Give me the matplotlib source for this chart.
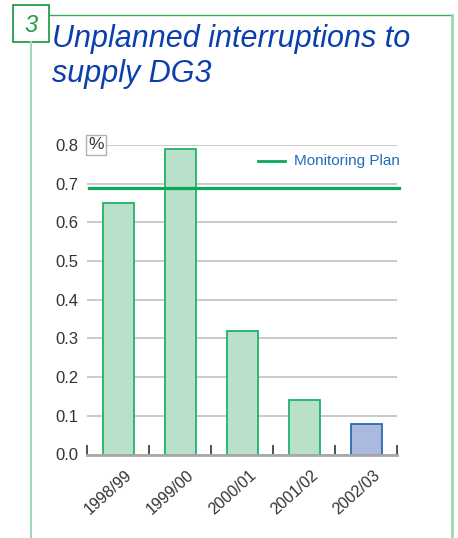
import matplotlib
matplotlib.use('Agg')
import matplotlib.pyplot as plt
import matplotlib.transforms as mtransforms
from matplotlib.lines import Line2D
from matplotlib.patches import Rectangle

plt.rcParams['font.family'] = ['Liberation Sans', 'DejaVu Sans']

# Data
years = ['1998/99', '1999/00', '2000/01', '2001/02', '2002/03']
values = [0.65, 0.79, 0.32, 0.14, 0.08]
monitoring_plan = 0.69
y_ticks = [0.0, 0.1, 0.2, 0.3, 0.4, 0.5, 0.6, 0.7, 0.8]

W, H = 458, 538
fig = plt.figure(figsize=(W / 100, H / 100), dpi=100)

def fx(px):
    return px / W

def fy(py):
    return 1 - py / H

# Page frame
frame_light = '#9fd6b3'
frame_dark = '#3aa85e'
fig.add_artist(Line2D([fx(49), fx(451.5)], [fy(14.5), fy(14.5)], color=frame_dark, lw=1.0))
fig.add_artist(Line2D([fx(451.5), fx(451.5)], [fy(14.5), fy(540)], color=frame_light, lw=2.0))
fig.add_artist(Line2D([fx(31), fx(31)], [fy(42), fy(540)], color=frame_light, lw=1.5))
fig.add_artist(Rectangle((fx(12.5), fy(42)), fx(36.5), 37 / H, transform=fig.transFigure,
                         facecolor='white', edgecolor='#2a9d4a', lw=1.3))
fig.text(fx(31), fy(25), '3', color='#1f9e45', fontsize=17, style='italic',
         ha='center', va='center')

# Title
title_color = '#0b3fae'
fig.text(fx(52), fy(47), 'Unplanned interruptions to', color=title_color,
         fontsize=22, style='italic', ha='left', va='baseline')
fig.text(fx(52), fy(82), 'supply DG3', color=title_color,
         fontsize=22, style='italic', ha='left', va='baseline')

# Chart axes
ax = fig.add_axes([fx(87), fy(454.5), fx(397) - fx(87), (454.5 - 145) / H])
x = list(range(len(years)))
colors = ['#b9e0c9'] * 4 + ['#abb9de']
edges = ['#1db36a'] * 4 + ['#2a6ab8']
ax.bar(x, values, width=0.5, color=colors, edgecolor=edges, linewidth=1.3, zorder=3)

ax.set_xlim(-0.5, 4.5)
ax.set_ylim(0, 0.8)
ax.set_yticks(y_ticks)
ax.set_yticklabels([f'{v:.1f}' for v in y_ticks])
ax.yaxis.grid(True, color='#c6c6c6', lw=1.3, zorder=0)
ax.tick_params(axis='y', length=0, pad=6, labelsize=12, labelcolor='#333333')

ax.set_xticks(x)
ax.set_xticklabels(years, rotation=42, ha='right', rotation_mode='anchor')
ax.tick_params(axis='x', which='major', length=0, pad=6, labelsize=11.5, labelcolor='#333333')
ax.set_xticks([i - 0.5 for i in range(len(years) + 1)], minor=True)
ax.tick_params(axis='x', which='minor', direction='in', length=7, width=1.2, color='#333333')
shift = mtransforms.ScaledTranslation(7 / 100, -5 / 100, fig.dpi_scale_trans)
for lbl in ax.get_xticklabels():
    lbl.set_transform(lbl.get_transform() + shift)

for side in ['top', 'right', 'left']:
    ax.spines[side].set_visible(False)
ax.spines['bottom'].set_color('#a8a8a8')
ax.spines['bottom'].set_linewidth(2)
ax.spines['bottom'].set_zorder(4)

# Monitoring plan line
ax.plot([-0.47, 4.53], [monitoring_plan, monitoring_plan], color='#0aa85a', lw=2.3,
        zorder=5, clip_on=False)

# Legend entry
fig.add_artist(Line2D([fx(258), fx(285)], [fy(160.5), fy(160.5)], color='#0aa85a', lw=2.0))
fig.text(fx(294), fy(160.5), 'Monitoring Plan', color='#1f6dbd', fontsize=11,
         ha='left', va='center')

# Unit label
fig.text(fx(96), fy(145), '%', fontsize=12.5, color='#333333', ha='center', va='center',
         bbox=dict(boxstyle='square,pad=0.12', facecolor='white', edgecolor='#b0b0b0', lw=1))

fig.savefig('out.png', dpi=100)
